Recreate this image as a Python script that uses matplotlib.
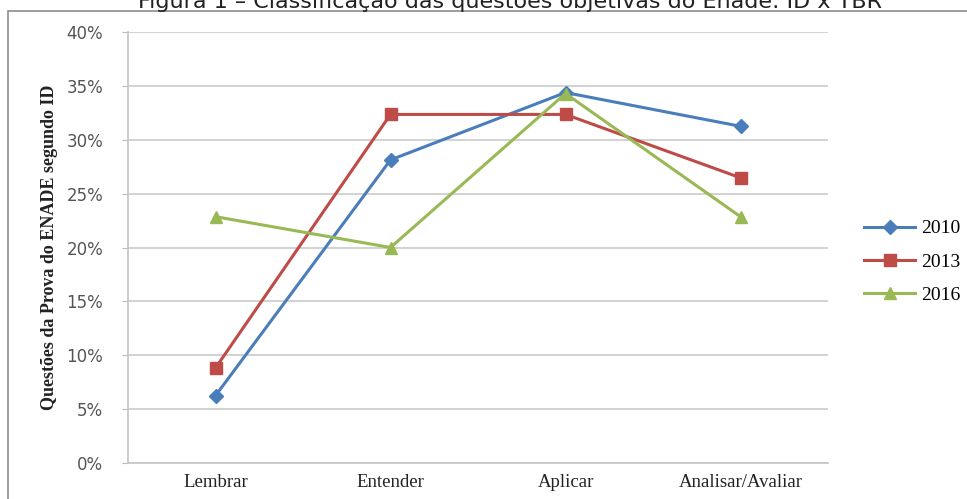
import matplotlib.pyplot as plt
import numpy as np
from matplotlib.patches import Rectangle
from matplotlib.ticker import FuncFormatter

# data
categorias = ["Lembrar", "Entender", "Aplicar", "Analisar/Avaliar"]
anos = ["2010", "2013", "2016"]
v2010 = [6.25, 28.13, 34.38, 31.25]
v2013 = [8.82, 32.35, 32.35, 26.47]
v2016 = [22.86, 20.00, 34.29, 22.86]
yticks = [0, 5, 10, 15, 20, 25, 30, 35, 40]

cores = ["#4A7EBB", "#BE4B48", "#98B954"]
marcadores = ["D", "s", "^"]
tamanhos = [7, 9, 9]

fig = plt.figure(figsize=(9.67, 4.99), dpi=100)
fig.patch.set_facecolor("white")

# moldura externa
fig.patches.append(Rectangle((8 / 967, -0.01), 1.0, (499 - 11) / 499 + 0.01,
                             transform=fig.transFigure, fill=False,
                             edgecolor="#8c8c8c", linewidth=1.2))

fig.text(0.527, 1 - 8 / 499, "Figura 1 – Classificação das questões objetivas do Enade: ID x TBR",
         ha="center", va="baseline", fontsize=16, family="DejaVu Sans", color="#222222")

ax = fig.add_axes([128 / 967, 36 / 499, 700 / 967, 431 / 499])
x = np.arange(len(categorias))
for serie, ano, c, m, s in zip([v2010, v2013, v2016], anos, cores, marcadores, tamanhos):
    ax.plot(x, serie, color=c, marker=m, markersize=s, linewidth=2.2, label=ano, zorder=3)

ax.set_xlim(-0.5, len(categorias) - 0.5)
ax.set_ylim(0, 40)
ax.set_yticks(yticks)
ax.yaxis.set_major_formatter(FuncFormatter(lambda v, p: f"{v:.0f}%"))
ax.set_xticks(x)
ax.set_xticklabels(categorias, family="Liberation Serif", fontsize=13.5, color="#222222")
ax.tick_params(axis="x", length=0, pad=8)
ax.tick_params(axis="y", length=4, color="#bbbbbb", labelsize=12, labelcolor="#555555", pad=14)
ax.grid(axis="y", color="#cfcfcf", linewidth=1.3)
ax.set_axisbelow(True)
for sp in ["top", "right"]:
    ax.spines[sp].set_visible(False)
ax.spines["left"].set_color("#c8c8c8")
ax.spines["bottom"].set_color("#c8c8c8")
ax.spines["left"].set_linewidth(1.3)
ax.spines["bottom"].set_linewidth(1.3)

ax.set_ylabel("Questões da Prova do ENADE segundo ID", family="Liberation Serif",
              fontweight="bold", fontsize=13, labelpad=6, color="#222222")

leg = ax.legend(loc="center left", bbox_to_anchor=(1.027, 0.467), frameon=False,
                prop={"family": "Liberation Serif", "size": 14}, handlelength=2.6,
                labelspacing=0.8, handletextpad=0.3)

fig.savefig("out.png", dpi=100)
